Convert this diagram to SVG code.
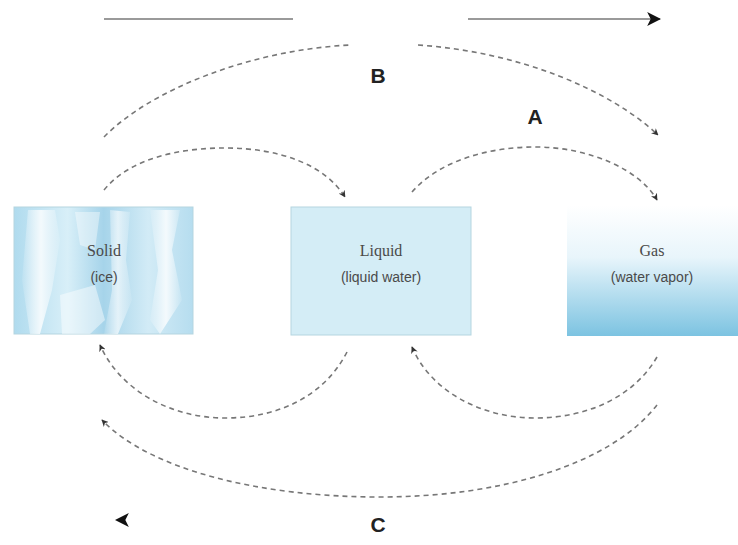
<svg xmlns="http://www.w3.org/2000/svg" width="738" height="545" viewBox="0 0 738 545">
<style>
.arc{fill:none;stroke:#777;stroke-width:1.6;stroke-dasharray:5 4}
.t1{font-family:"Liberation Serif",serif;font-size:16px;fill:#4a4a4a;text-anchor:middle}
.t2{font-family:"Liberation Sans",sans-serif;font-size:14px;fill:#4a4a4a;text-anchor:middle}
.lbl{font-family:"Liberation Sans",sans-serif;font-size:21px;font-weight:bold;fill:#222;text-anchor:middle}
.box{stroke:#b5d5e0;stroke-width:1}
</style>
<defs>
<marker id="ah" viewBox="0 0 10 10" refX="9" refY="5" markerWidth="7" markerHeight="7" markerUnits="userSpaceOnUse" orient="auto">
<path d="M0,0 L10,5 L0,10 L3,5 z" fill="#333"/>
</marker>
<marker id="big" viewBox="0 0 12 12" refX="11" refY="6" markerWidth="14" markerHeight="14" markerUnits="userSpaceOnUse" orient="auto">
<path d="M0,0 L12,6 L0,12 L3,6 z" fill="#111"/>
</marker>
<linearGradient id="gas" x1="0" y1="0" x2="0" y2="1">
<stop offset="0" stop-color="#ffffff"/>
<stop offset="0.4" stop-color="#e8f5fb"/>
<stop offset="1" stop-color="#7cc3e1"/>
</linearGradient>
<linearGradient id="ice" x1="0" y1="0" x2="1" y2="0">
<stop offset="0" stop-color="#b0dbee"/>
<stop offset="0.3" stop-color="#d8eff8"/>
<stop offset="0.5" stop-color="#a6d4ea"/>
<stop offset="0.75" stop-color="#d2ebf6"/>
<stop offset="1" stop-color="#b6ddef"/>
</linearGradient>
<linearGradient id="wh" x1="0" y1="0" x2="1" y2="0">
<stop offset="0" stop-color="#fff" stop-opacity="0.1"/>
<stop offset="0.5" stop-color="#fff" stop-opacity="0.8"/>
<stop offset="1" stop-color="#fff" stop-opacity="0.1"/>
</linearGradient>
</defs>

<g id="top-arrow">
<line x1="104" y1="19" x2="293" y2="19" stroke="#9a9a9a" stroke-width="2.2"/>
<line x1="468" y1="19" x2="660" y2="19" stroke="#9a9a9a" stroke-width="2.2" marker-end="url(#big)"/>
</g>

<g id="solid">
<rect class="box" x="14" y="207" width="179" height="127" fill="url(#ice)"/>
<polygon points="28,210 55,210 60,240 52,290 40,334 30,334 22,280" fill="url(#wh)"/>
<polygon points="110,210 130,212 126,260 132,300 118,334 104,334 112,290" fill="url(#wh)" opacity="0.8"/>
<polygon points="150,210 180,210 172,250 182,300 160,334 150,320 158,270" fill="url(#wh)"/>
<polygon points="60,295 95,285 105,320 90,334 62,334" fill="#fff" opacity="0.45"/>
<polygon points="75,212 100,212 95,250 80,245" fill="#fff" opacity="0.4"/>
<text class="t1" x="104" y="256">Solid</text>
<text class="t2" x="104" y="282">(ice)</text>
</g>

<g id="liquid">
<rect class="box" x="291" y="207" width="180" height="128" fill="#d4edf6"/>
<text class="t1" x="381" y="256">Liquid</text>
<text class="t2" x="381" y="282">(liquid water)</text>
</g>

<g id="gas">
<rect x="567" y="205" width="171" height="131" fill="url(#gas)"/>
<text class="t1" x="652" y="256">Gas</text>
<text class="t2" x="652" y="282">(water vapor)</text>
</g>

<g id="connectors">
<path class="arc" d="M104,137 C150,90 250,50 350,45"/>
<path class="arc" d="M418,45 C520,52 610,90 658,135" marker-end="url(#ah)"/>
<path class="arc" d="M104,190 C130,158 180,148 225,148 C280,148 325,165 345,197" marker-end="url(#ah)"/>
<path class="arc" d="M412,192 C440,160 490,147 535,147 C590,147 640,170 657,200" marker-end="url(#ah)"/>
<path class="arc" d="M347,352 C325,395 280,418 225,418 C170,418 120,390 100,345" marker-end="url(#ah)"/>
<path class="arc" d="M657,357 C635,395 590,418 535,418 C480,418 430,390 412,347" marker-end="url(#ah)"/>
<path class="arc" d="M657,405 C610,465 500,497 380,497 C260,497 150,470 102,420" marker-end="url(#ah)"/>
<path d="M130,520 L116,520" stroke="none" fill="none" marker-end="url(#big)"/>
</g>

<g id="labels">
<text class="lbl" x="378" y="83">B</text>
<text class="lbl" x="535" y="124">A</text>
<text class="lbl" x="378" y="532">C</text>
</g>
</svg>
